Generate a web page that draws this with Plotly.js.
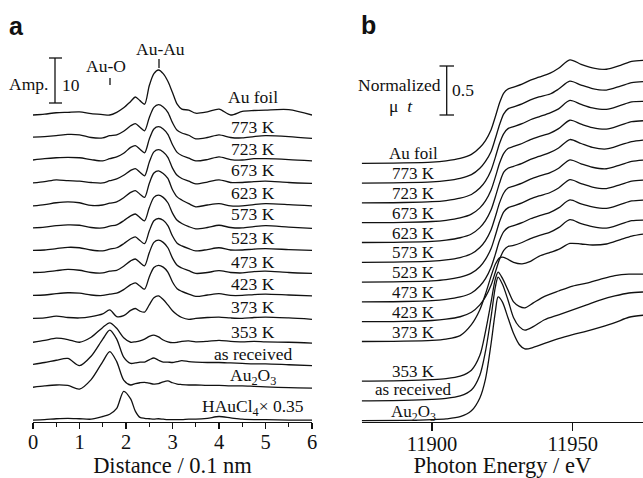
<!DOCTYPE html>
<html><head><meta charset="utf-8">
<script src="https://cdn.plot.ly/plotly-3.0.1.min.js"></script>
<style>html,body{margin:0;padding:0;background:#fff}#chart{width:643px;height:478px}</style>
</head><body><div id="chart"></div>
<script>
// ---------- Panel a : FT magnitude vs distance ----------
const distA = [0,0.25,0.5,0.75,1.0,1.25,1.5,1.65,1.8,1.95,2.1,2.2,2.3,2.4,2.5,2.6,2.7,2.8,2.9,3.0,3.1,3.2,3.35,3.5,3.75,4.0,4.25,4.5,4.75,5.0,5.5,6.0];
const namesA = ['Au foil','773 K','723 K','673 K','623 K','573 K','523 K','473 K','423 K','373 K','353 K','as received','Au<sub>2</sub>O<sub>3</sub>','HAuCl<sub>4</sub>× 0.35'];
const offsetsA = [67,62,57,52,47,42,37,32,27,22,17,12,7,0];
const ampFoil  = [1.0,1.2,1.5,1.6,1.7,1.3,1.1,1.0,1.6,2.6,4.0,5.0,4.2,3.4,7.5,10.2,11.0,10.2,8.5,6.0,3.4,2.3,2.1,1.4,1.7,2.3,1.0,1.8,2.0,2.1,2.2,1.0];
const amp773   = [1.1,1.2,1.4,1.7,1.6,1.0,0.9,1.4,1.6,2.4,3.6,4.1,3.3,2.5,5.4,7.7,8.3,7.8,6.6,4.3,2.6,2.0,1.5,0.7,1.0,1.6,1.0,0.9,1.2,1.4,1.2,0.8];
const amp723   = [1.0,1.3,1.5,1.6,1.5,1.1,0.8,1.3,1.7,2.5,3.8,4.2,3.4,2.6,5.6,7.9,8.4,7.9,6.7,4.4,2.7,2.0,1.4,0.8,1.1,1.7,1.1,1.0,1.3,1.3,1.1,0.8];
const amp673   = [0.9,1.2,1.6,1.4,1.3,1.0,0.9,1.4,1.8,2.6,3.7,4.1,3.3,2.5,5.5,7.8,8.3,7.8,6.6,4.2,2.6,1.9,1.3,0.7,1.1,1.6,1.0,1.0,1.2,1.3,1.0,0.8];
const amp623   = [0.8,1.1,1.5,1.7,1.5,0.9,1.0,1.4,1.7,2.6,3.8,4.2,3.4,2.7,5.8,8.1,8.6,8.0,6.9,4.4,2.8,2.1,1.3,0.6,1.0,1.3,0.8,0.8,1.1,1.3,1.1,0.8];
const amp573   = [0.9,1.1,1.4,1.6,1.5,1.0,0.9,1.3,1.6,2.5,3.6,4.0,3.2,2.5,5.4,7.7,8.2,7.7,6.5,4.2,2.6,1.9,1.2,0.7,1.0,1.5,1.0,0.9,1.2,1.4,1.1,0.8];
const amp523   = [0.9,1.0,1.3,1.6,1.5,1.0,0.8,1.2,1.5,2.4,3.5,3.9,3.1,2.4,5.2,7.5,8.0,7.6,6.4,4.1,2.5,1.9,1.3,0.8,1.1,1.5,1.0,1.0,1.2,1.3,1.1,0.9];
const amp473   = [1.0,1.1,1.4,1.7,1.5,1.0,0.9,1.3,1.5,2.4,3.6,4.0,3.2,2.5,5.4,7.7,8.2,7.7,6.5,4.2,2.6,2.0,1.4,0.8,1.0,1.4,1.0,0.9,1.2,1.3,1.0,0.8];
const amp423   = [0.9,1.0,1.3,1.5,1.4,1.0,0.9,1.2,1.4,2.2,3.3,3.7,3.0,2.3,5.0,7.1,7.6,7.2,6.1,3.9,2.4,1.8,1.2,0.7,1.0,1.3,0.9,0.9,1.1,1.2,1.0,0.8];
const amp373   = [0.8,0.9,1.3,1.0,0.9,1.2,1.8,2.7,1.2,1.4,2.6,3.0,2.4,2.2,3.8,5.4,5.8,5.0,3.8,2.5,1.6,1.0,0.6,0.8,1.0,1.1,0.9,0.8,1.0,1.1,0.9,0.6];
const amp353   = [0.5,0.9,1.4,1.1,0.5,1.6,3.8,4.8,3.6,1.5,0.5,0.6,0.8,1.2,1.8,2.1,1.7,1.0,0.6,0.4,0.5,0.7,0.8,0.6,0.7,0.9,0.7,0.6,0.7,0.6,0.5,0.3];
const ampAsRec = [0.6,1.0,1.5,1.9,0.3,2.4,6.2,8.2,6.2,2.2,0.8,0.9,1.1,1.1,1.6,2.0,1.5,1.1,1.1,1.0,1.2,1.4,1.2,1.1,1.0,1.0,0.9,0.8,0.7,0.7,0.5,0.3];
const ampAu2O3 = [0.5,0.8,1.0,0.9,0.1,2.2,6.2,8.4,6.2,2.1,1.0,1.3,1.5,1.6,1.4,1.2,1.3,1.7,1.9,1.5,1.2,1.1,1.0,1.0,0.9,0.9,0.8,0.8,0.7,0.6,0.4,0.3];
const ampHAuCl4= [0.2,0.3,0.5,0.6,0.5,0.4,1.0,1.5,2.8,6.6,4.9,2.2,0.8,0.6,0.5,0.4,0.5,0.4,0.3,0.3,0.3,0.3,0.4,0.4,0.6,1.0,0.7,0.4,0.3,0.3,0.2,0.2];
const seriesA = [ampFoil,amp773,amp723,amp673,amp623,amp573,amp523,amp473,amp423,amp373,amp353,ampAsRec,ampAu2O3,ampHAuCl4];
const labelYA = [71.9,65.4,60.4,55.8,50.7,46.0,40.6,35.4,30.4,25.4,19.85,15.0,9.85,3.0];

// ---------- Panel b : XANES ----------
const energyMetal = [11875,11890,11900,11905,11910,11914,11917,11919,11921,11922.5,11924,11925.5,11927,11929,11932,11935,11938,11942,11945,11949,11953,11957,11962,11967,11971,11975];
const energyOxide = [11875,11890,11900,11905,11910,11914,11917,11919,11921,11922.5,11923.5,11925,11927,11929,11931,11933,11936,11940,11945,11950,11955,11960,11965,11970,11975];
const namesB = ['Au foil','773 K','723 K','673 K','623 K','573 K','523 K','473 K','423 K','373 K','353 K','as received','Au<sub>2</sub>O<sub>3</sub>'];
const offsetsB = [2.6,2.4,2.2,2.0,1.8,1.6,1.4,1.2,1.0,0.8,0.4,0.2,0.0];
const muFoil = [0,0.004,0.012,0.025,0.05,0.09,0.16,0.23,0.34,0.47,0.61,0.71,0.75,0.77,0.80,0.84,0.87,0.91,0.96,1.045,1.0,0.965,0.95,0.99,1.03,1.04];
const mu773  = [0,0.004,0.012,0.024,0.048,0.085,0.15,0.22,0.32,0.45,0.59,0.70,0.75,0.77,0.80,0.84,0.87,0.90,0.95,1.03,0.99,0.955,0.94,0.98,1.015,1.025];
const mu723  = [0,0.004,0.012,0.024,0.048,0.085,0.15,0.22,0.33,0.46,0.60,0.70,0.75,0.77,0.80,0.84,0.87,0.91,0.95,1.035,0.995,0.96,0.945,0.985,1.02,1.025];
const mu673  = [0,0.004,0.012,0.024,0.048,0.086,0.15,0.22,0.33,0.46,0.60,0.70,0.75,0.77,0.80,0.84,0.87,0.905,0.95,1.035,0.995,0.96,0.945,0.985,1.02,1.03];
const mu623  = [0,0.004,0.012,0.024,0.048,0.086,0.15,0.22,0.33,0.46,0.60,0.71,0.75,0.77,0.80,0.84,0.87,0.91,0.955,1.04,1.0,0.96,0.945,0.985,1.02,1.035];
const mu573  = [0,0.004,0.012,0.024,0.048,0.086,0.15,0.22,0.33,0.46,0.60,0.70,0.75,0.77,0.80,0.84,0.87,0.905,0.95,1.035,0.995,0.96,0.945,0.985,1.02,1.033];
const mu523  = [0,0.004,0.012,0.024,0.05,0.09,0.155,0.23,0.34,0.47,0.61,0.71,0.75,0.77,0.80,0.84,0.87,0.905,0.95,1.035,0.995,0.96,0.945,0.985,1.02,1.031];
const mu473  = [0,0.004,0.012,0.025,0.05,0.09,0.16,0.235,0.35,0.48,0.62,0.71,0.75,0.77,0.80,0.84,0.87,0.905,0.95,1.03,0.99,0.96,0.945,0.985,1.02,1.029];
const mu423  = [0,0.004,0.012,0.025,0.05,0.095,0.17,0.25,0.37,0.50,0.63,0.72,0.76,0.77,0.80,0.84,0.87,0.905,0.95,1.03,0.99,0.96,0.945,0.985,1.02,1.027];
const mu373  = [0,0.004,0.012,0.025,0.06,0.17,0.32,0.48,0.66,0.78,0.845,0.85,0.83,0.80,0.785,0.81,0.86,0.90,0.93,0.99,0.985,0.975,0.985,1.03,1.065,1.085];
const mu353  = [0,0.005,0.015,0.025,0.05,0.11,0.26,0.5,0.8,1.03,1.1,1.04,0.92,0.8,0.755,0.74,0.79,0.855,0.91,0.96,0.99,1.03,1.065,1.08,1.08];
const muAsRec= [0,0.005,0.015,0.025,0.05,0.11,0.26,0.5,0.85,1.15,1.25,1.18,1.02,0.84,0.75,0.715,0.75,0.82,0.87,0.92,0.97,1.02,1.06,1.09,1.1];
const muAu2O3= [0,0.003,0.01,0.018,0.04,0.1,0.23,0.42,0.78,1.1,1.25,1.2,1.04,0.88,0.77,0.725,0.74,0.78,0.83,0.87,0.905,0.945,0.99,1.045,1.065];
const seriesB = [muFoil,mu773,mu723,mu673,mu623,mu573,mu523,mu473,mu423,mu373,mu353,muAsRec,muAu2O3];
const energyB = [energyMetal,energyMetal,energyMetal,energyMetal,energyMetal,energyMetal,energyMetal,energyMetal,energyMetal,energyMetal,energyOxide,energyOxide,energyOxide];

// ---------- build ----------
const W = 643, PH = 422;
const serif = 'Liberation Serif, Times New Roman, serif';
const lineStyle = {color:'#111', width:1.3, shape:'spline', smoothing:0.8};
const traces = [];
seriesA.forEach((s,i)=>traces.push({x:distA, y:s.map(v=>v+offsetsA[i]), xaxis:'x', yaxis:'y', mode:'lines', line:lineStyle, hoverinfo:'skip', showlegend:false}));
seriesB.forEach((s,i)=>traces.push({x:energyB[i], y:s.map(v=>v+offsetsB[i]), xaxis:'x2', yaxis:'y2', mode:'lines', line:lineStyle, hoverinfo:'skip', showlegend:false}));

const px = x=>x/W, py = y=>(PH-y)/PH;
const ann = [];
const labelShiftB = [0,0,0,0,0,0,0,0,0,0,0,2,-1.5];
namesA.forEach((n,i)=>ann.push({x:4.74, y:labelYA[i], xref:'x', yref:'y', text:n, showarrow:false, xanchor:'center', yanchor:'middle', font:{family:serif,size:17.5,color:'#111'}}));
namesB.forEach((n,i)=>ann.push({x:11893.3, y:offsetsB[i]+0.095, yshift:labelShiftB[i], xref:'x2', yref:'y2', text:n, showarrow:false, xanchor:'center', yanchor:'middle', font:{family:serif,size:17,color:'#111'}}));
function txt(t,x,y,size,fam){ann.push({x:px(x),y:py(y),xref:'paper',yref:'paper',text:t,showarrow:false,xanchor:'center',yanchor:'middle',font:{family:fam||serif,size:size||17.5,color:'#111'}});}
txt('<b>a</b>',16.5,26,25,'Liberation Sans, Arial, sans-serif');
txt('<b>b</b>',368,25,25,'Liberation Sans, Arial, sans-serif');
txt('Amp.',28.5,84);
txt('10',70.5,85);
txt('Au-O',106,66);
txt('Au-Au',160,49.5);
txt('Normalized',399.5,85);
txt('μ  <i>t</i>',401,106.5);
txt('0.5',463,90);

const shapes = [];
function seg(x0,y0,x1,y1){shapes.push({type:'line',xref:'paper',yref:'paper',x0:px(x0),y0:py(y0),x1:px(x1),y1:py(y1),line:{color:'#111',width:1.3}});}
seg(55,58,55,103); seg(49,58,62,58); seg(49,103,62,103);
seg(110,78,110,85);
seg(159,59,159,68);
seg(446.7,66,446.7,115); seg(439.5,66,454,66); seg(439.5,115,454,115);

const axFont = {family:serif,size:20.5,color:'#111'};
const layout = {
  width:W, height:478, margin:{l:0,r:0,t:0,b:478-PH}, paper_bgcolor:'#fff', plot_bgcolor:'#fff', showlegend:false,
  xaxis:{domain:[33/W,312/W], range:[0,6], anchor:'y', showgrid:false, zeroline:false, showline:true, linecolor:'#111', linewidth:1.3,
    ticks:'outside', ticklen:6, tickwidth:1.2, tickcolor:'#111', dtick:1, tick0:0, tickfont:axFont, ticklabelstandoff:-5,
    minor:{dtick:0.5, tick0:0, ticks:'outside', ticklen:4, tickwidth:1.2, tickcolor:'#111'},
    title:{text:'Distance / 0.1 nm', font:{family:serif,size:22.5,color:'#111'}, standoff:8}},
  yaxis:{domain:[0,1], range:[-0.222,93.56], visible:false, fixedrange:true},
  xaxis2:{domain:[361.7/W,1], range:[11875,11975], anchor:'y2', showgrid:false, zeroline:false, showline:true, linecolor:'#111', linewidth:1.3,
    ticks:'outside', ticklen:8, tickwidth:1.2, tickcolor:'#111', dtick:50, tick0:11900, tickformat:'d', tickfont:axFont, ticklabelstandoff:-5,
    title:{text:'Photon Energy / eV', font:{family:serif,size:22.5,color:'#111'}, standoff:10}},
  yaxis2:{domain:[0,1], range:[-0.0131,4.2495], visible:false, fixedrange:true, anchor:'x2'},
  annotations:ann, shapes:shapes
};
Plotly.newPlot('chart', traces, layout, {staticPlot:true, displayModeBar:false});
</script>
</body></html>
